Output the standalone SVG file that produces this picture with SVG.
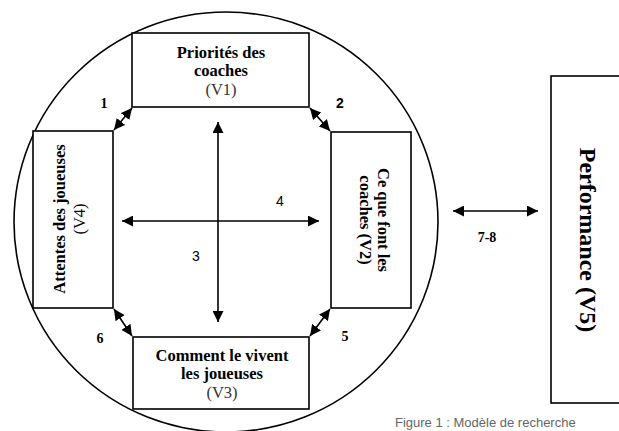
<svg xmlns="http://www.w3.org/2000/svg" width="619" height="431" viewBox="0 0 619 431">
<style>
.box{fill:#fff;stroke:#000;stroke-width:1.6}
.t{font-family:"Liberation Serif",serif;font-size:16.5px;fill:#000;text-anchor:middle}
.b{font-weight:bold}
.v{fill:#333}
.n{font-family:"Liberation Serif",serif;font-size:14px;font-weight:bold;fill:#000;text-anchor:middle}
.s{font-family:"Liberation Sans",sans-serif;font-size:14px;fill:#000;text-anchor:middle}
.c line{stroke:#000;stroke-width:1.6;fill:none}
</style>
<defs>
<marker id="ahs" viewBox="0 0 10 10" refX="10" refY="5" markerWidth="11" markerHeight="11" markerUnits="userSpaceOnUse" orient="auto-start-reverse">
<path d="M0,0 L10,5 L0,10 z" fill="#000"/>
</marker>
</defs>
<rect width="619" height="431" fill="#fff"/>
<g id="circle"><ellipse cx="226" cy="222" rx="212" ry="210" fill="none" stroke="#000" stroke-width="1.6"/></g>
<g class="c" id="connectors">
<line x1="218" y1="122" x2="218" y2="322" marker-start="url(#ahs)" marker-end="url(#ahs)"/>
<line x1="122" y1="221" x2="319" y2="221" marker-start="url(#ahs)" marker-end="url(#ahs)"/>
<line x1="114" y1="130" x2="132" y2="108" marker-start="url(#ahs)" marker-end="url(#ahs)"/>
<line x1="310" y1="108" x2="330" y2="131" marker-start="url(#ahs)" marker-end="url(#ahs)"/>
<line x1="114" y1="309" x2="132" y2="336" marker-start="url(#ahs)" marker-end="url(#ahs)"/>
<line x1="330" y1="309" x2="310" y2="336" marker-start="url(#ahs)" marker-end="url(#ahs)"/>
<line x1="453" y1="211" x2="538" y2="211" marker-start="url(#ahs)" marker-end="url(#ahs)"/>
</g>
<g id="v1">
<rect class="box" x="132" y="33" width="177" height="74"/>
<text class="t b" x="221" y="58">Priorités  des</text>
<text class="t b" x="221" y="76">coaches</text>
<text class="t v" x="221" y="95">(V1)</text>
</g>
<g id="v4">
<rect class="box" x="33" y="131" width="80" height="177"/>
<text class="t b" transform="translate(65,219) rotate(-90)">Attentes des joueuses</text>
<text class="t" transform="translate(85,219) rotate(-90)">(V4)</text>
</g>
<g id="v2">
<rect class="box" x="331" y="132" width="80" height="176"/>
<text class="t b" transform="translate(378,220) rotate(90)">Ce que font les</text>
<text class="t b" transform="translate(360,220) rotate(90)">coaches (V2)</text>
</g>
<g id="v3">
<rect class="box" x="133" y="337" width="176" height="72"/>
<text class="t b" x="222" y="361">Comment le vivent</text>
<text class="t b" x="222" y="379">les joueuses</text>
<text class="t v" x="222" y="398">(V3)</text>
</g>
<g id="v5">
<rect class="box" x="551" y="76" width="80" height="327"/>
<text class="t b" style="font-size:24px" transform="translate(580,240) rotate(90)">Performance (V5)</text>
</g>
<g id="labels">
<text class="n" x="104" y="108">1</text>
<text class="s" x="340" y="108" style="font-weight:bold">2</text>
<text class="s" x="196" y="261">3</text>
<text class="s" x="280" y="206">4</text>
<text class="n" x="345" y="341">5</text>
<text class="n" x="100" y="343">6</text>
<text class="n" x="487" y="242">7-8</text>
</g>
<text x="395" y="427" style="font-family:'Liberation Sans',sans-serif;font-size:13px;fill:#666">Figure 1 : Modèle de recherche</text>
</svg>
